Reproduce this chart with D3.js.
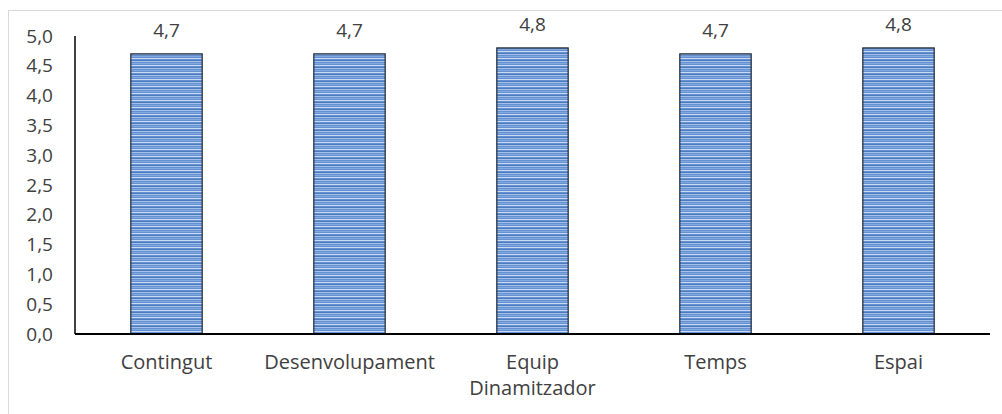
<!DOCTYPE html>
<html>
<head>
<meta charset="utf-8">
<script src="https://cdn.jsdelivr.net/npm/d3@7"></script>
<style>
  body { margin: 0; background: #fff; }
  svg { display: block; }
</style>
</head>
<body>
<script>
// chart data
var categories = ["Contingut", "Desenvolupament", "Equip Dinamitzador", "Temps", "Espai"];
var values = [4.7, 4.7, 4.8, 4.7, 4.8];
var yTicks = [0, 0.5, 1, 1.5, 2, 2.5, 3, 3.5, 4, 4.5, 5];

var width = 1002, height = 414;
var margin = {top: 36, right: 12, bottom: 80, left: 75};
var innerW = 990 - margin.left;
var innerH = 334 - margin.top;
var font = "'Open Sans', 'Noto Sans', sans-serif";

var svg = d3.select("body").append("svg")
    .attr("width", width)
    .attr("height", height);

// striped fill like the original (narrow horizontal pattern)
var defs = svg.append("defs");
var pat = defs.append("pattern")
    .attr("id", "stripes")
    .attr("patternUnits", "userSpaceOnUse")
    .attr("width", 8)
    .attr("height", 7);
pat.append("rect").attr("width", 8).attr("height", 7).attr("fill", "#6391d2");
pat.append("rect").attr("y", 1).attr("width", 8).attr("height", 1).attr("fill", "#c9daf2");
pat.append("rect").attr("y", 3).attr("width", 8).attr("height", 1).attr("fill", "#4c7bc0");
pat.append("rect").attr("y", 4).attr("width", 8).attr("height", 1).attr("fill", "#a6c1e8");
pat.append("rect").attr("y", 6).attr("width", 8).attr("height", 1).attr("fill", "#83a8de");

// outer chart frame
svg.append("rect")
    .attr("x", 8.5).attr("y", 10.5)
    .attr("width", width + 20).attr("height", height + 20)
    .attr("fill", "none")
    .attr("stroke", "#d9d9d9");

var g = svg.append("g")
    .attr("transform", "translate(" + margin.left + "," + margin.top + ")");

var x = d3.scaleBand()
    .domain(categories)
    .range([0, innerW])
    .paddingInner(0.61)
    .paddingOuter(0.305);

var y = d3.scaleLinear()
    .domain([0, 5])
    .range([innerH, 0]);

var fmt = function(v) { return d3.format(".1f")(v).replace(".", ","); };

// y axis labels
g.selectAll("text.ytick")
    .data(yTicks)
  .enter().append("text")
    .attr("class", "ytick")
    .attr("x", -22)
    .attr("y", function(d) { return y(d); })
    .attr("dy", "0.35em")
    .attr("text-anchor", "end")
    .style("font-family", font)
    .style("font-size", "19px")
    .style("fill", "#404040")
    .text(fmt);

// bars
g.selectAll("rect.bar")
    .data(values)
  .enter().append("rect")
    .attr("class", "bar")
    .attr("x", function(d, i) { return x(categories[i]); })
    .attr("y", function(d) { return y(d); })
    .attr("width", x.bandwidth())
    .attr("height", function(d) { return innerH - y(d); })
    .attr("fill", "url(#stripes)")
    .attr("stroke", "#1c2533")
    .attr("stroke-width", 1.2);

// value labels
g.selectAll("text.val")
    .data(values)
  .enter().append("text")
    .attr("class", "val")
    .attr("x", function(d, i) { return x(categories[i]) + x.bandwidth() / 2; })
    .attr("y", function(d) { return y(d) - 17; })
    .attr("text-anchor", "middle")
    .style("font-family", font)
    .style("font-size", "19px")
    .style("fill", "#404040")
    .text(fmt);

// axis lines
g.append("line")
    .attr("x1", 0).attr("x2", 0)
    .attr("y1", 0).attr("y2", innerH)
    .attr("stroke", "#000").attr("stroke-width", 1.5);
g.append("line")
    .attr("x1", 0).attr("x2", innerW)
    .attr("y1", innerH).attr("y2", innerH)
    .attr("stroke", "#000").attr("stroke-width", 2);

// category labels (wrap two-word label as Excel does)
var wrapped = {"Equip Dinamitzador": ["Equip", "Dinamitzador"]};
var cat = g.selectAll("text.cat")
    .data(categories)
  .enter().append("text")
    .attr("class", "cat")
    .attr("x", function(d) { return x(d) + x.bandwidth() / 2; })
    .attr("y", innerH + 35)
    .attr("text-anchor", "middle")
    .style("font-family", font)
    .style("font-size", "20px")
    .style("fill", "#404040");
cat.each(function(d) {
  var lines = wrapped[d] || [d];
  var t = d3.select(this);
  lines.forEach(function(l, k) {
    t.append("tspan")
      .attr("x", x(d) + x.bandwidth() / 2)
      .attr("dy", k == 0 ? 0 : 26)
      .text(l);
  });
});
</script>
</body>
</html>
